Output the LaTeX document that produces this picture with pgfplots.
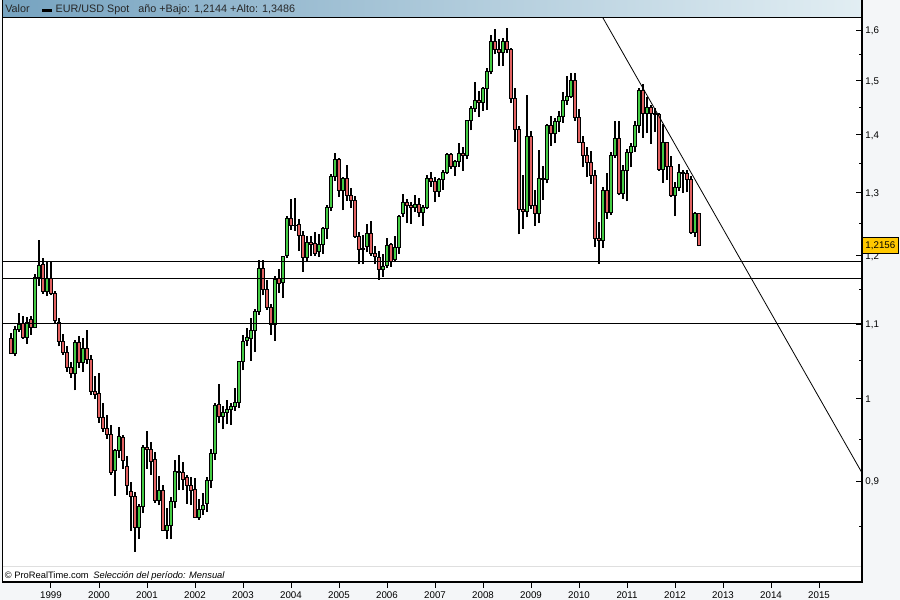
\documentclass[border=0pt]{standalone}
\usepackage{pgfplots}
\pgfplotsset{compat=1.18}
\usepackage{pgfplotstable}
\usepackage{fontspec}
\setmainfont{Liberation Sans}
\definecolor{upc}{RGB}{68,204,68}
\definecolor{dnc}{RGB}{226,98,98}
\definecolor{bgc}{RGB}{244,246,248}
\definecolor{hdl}{RGB}{118,163,192}
\definecolor{hdr}{RGB}{226,238,243}
\definecolor{goldc}{RGB}{255,200,0}
\newcommand\tf{\fontsize{7.3}{8.5}\selectfont}
\newcommand\ff{\fontsize{7}{8.5}\selectfont}
\newcommand\hf{\fontsize{8.1}{9}\selectfont}

% monthly EUR/USD candles, index 0 = Mar 1998, 172 = Jul 2012
\pgfplotstableread{
i O H L C
0 1.0807 1.0876 1.0590 1.0603
1 1.0603 1.0970 1.0560 1.0920
2 1.0920 1.1160 1.0890 1.1000
3 1.1010 1.1110 1.0790 1.0820
4 1.0820 1.1100 1.0730 1.1030
5 1.1070 1.1120 1.0850 1.0960
6 1.0960 1.1720 1.0940 1.1680
7 1.1680 1.2240 1.1550 1.1850
8 1.1870 1.1960 1.1430 1.1460
9 1.1460 1.1910 1.1400 1.1660
10 1.1660 1.1910 1.1410 1.1440
11 1.1440 1.1470 1.1000 1.1050
12 1.1030 1.1080 1.0690 1.0760
13 1.0760 1.0860 1.0580 1.0610
14 1.0610 1.0700 1.0350 1.0410
15 1.0410 1.0480 1.0270 1.0330
16 1.0330 1.0780 1.0110 1.0750
17 1.0750 1.0830 1.0400 1.0470
18 1.0470 1.0800 1.0350 1.0660
19 1.0660 1.0920 1.0450 1.0520
20 1.0520 1.0580 1.0050 1.0090
21 1.0090 1.0300 1.0000 1.0060
22 1.0075 1.0340 0.9700 0.9770
23 0.9770 0.9950 0.9590 0.9630
24 0.9630 0.9800 0.9500 0.9560
25 0.9560 0.9670 0.9080 0.9100
26 0.9130 0.9380 0.8840 0.9370
27 0.9370 0.9650 0.9270 0.9530
28 0.9520 0.9550 0.9150 0.9250
29 0.9170 0.9300 0.8850 0.8960
30 0.8890 0.9000 0.8450 0.8830
31 0.8830 0.8880 0.8230 0.8490
32 0.8490 0.8750 0.8370 0.8720
33 0.8720 0.9430 0.8650 0.9400
34 0.9400 0.9600 0.9150 0.9380
35 0.9380 0.9470 0.9080 0.9230
36 0.9260 0.9340 0.8760 0.8790
37 0.8790 0.9060 0.8730 0.8900
38 0.8900 0.8960 0.8450 0.8460
39 0.8460 0.8700 0.8360 0.8510
40 0.8510 0.8830 0.8360 0.8780
41 0.8780 0.9250 0.8700 0.9120
42 0.9120 0.9310 0.8900 0.9100
43 0.9100 0.9230 0.8900 0.9020
44 0.9050 0.9080 0.8750 0.8960
45 0.8960 0.9050 0.8730 0.8900
46 0.8910 0.9040 0.8590 0.8600
47 0.8600 0.8800 0.8570 0.8690
48 0.8690 0.8870 0.8620 0.8730
49 0.8750 0.9050 0.8660 0.9010
50 0.9010 0.9380 0.8930 0.9330
51 0.9330 0.9950 0.9250 0.9920
52 0.9930 1.0190 0.9700 0.9780
53 0.9780 0.9910 0.9620 0.9830
54 0.9830 0.9980 0.9680 0.9870
55 0.9870 0.9950 0.9670 0.9910
56 0.9910 1.0140 0.9850 0.9950
57 0.9950 1.0500 0.9880 1.0490
58 1.0490 1.0850 1.0370 1.0760
59 1.0780 1.0940 1.0690 1.0820
60 1.0800 1.1090 1.0500 1.0910
61 1.0910 1.1210 1.0620 1.1180
62 1.1180 1.1930 1.1130 1.1810
63 1.1810 1.1930 1.1410 1.1500
64 1.1500 1.1640 1.1200 1.1240
65 1.1240 1.1280 1.0850 1.0990
66 1.0990 1.1700 1.0770 1.1650
67 1.1660 1.1800 1.1450 1.1590
68 1.1600 1.2000 1.1370 1.1990
69 1.2010 1.2630 1.1960 1.2590
70 1.2590 1.2900 1.2400 1.2470
71 1.2470 1.2920 1.2390 1.2480
72 1.2490 1.2570 1.2080 1.2310
73 1.2320 1.2390 1.1760 1.1980
74 1.1980 1.2300 1.1900 1.2200
75 1.2200 1.2310 1.1990 1.2170
76 1.2190 1.2370 1.2000 1.2030
77 1.2060 1.2330 1.1980 1.2170
78 1.2170 1.2450 1.2030 1.2430
79 1.2430 1.2810 1.2260 1.2770
80 1.2770 1.3310 1.2710 1.3270
81 1.3270 1.3670 1.3200 1.3560
82 1.3570 1.3590 1.2940 1.3040
83 1.3040 1.3270 1.2720 1.3250
84 1.3250 1.3480 1.2870 1.2960
85 1.2960 1.3090 1.2750 1.2870
86 1.2880 1.2950 1.2280 1.2300
87 1.2300 1.2370 1.1870 1.2100
88 1.2100 1.2320 1.1870 1.2120
89 1.2140 1.2500 1.2050 1.2340
90 1.2340 1.2540 1.2000 1.2040
91 1.2040 1.2150 1.1870 1.1990
92 1.1980 1.2080 1.1640 1.1790
93 1.1790 1.2020 1.1680 1.1840
94 1.1850 1.2270 1.1810 1.2160
95 1.2170 1.2200 1.1830 1.1920
96 1.1940 1.2300 1.1900 1.2130
97 1.2130 1.2640 1.2030 1.2620
98 1.2660 1.2980 1.2610 1.2840
99 1.2840 1.2900 1.2510 1.2790
100 1.2790 1.2850 1.2500 1.2770
101 1.2770 1.2970 1.2690 1.2810
102 1.2810 1.2910 1.2600 1.2680
103 1.2680 1.2800 1.2470 1.2760
104 1.2760 1.3300 1.2740 1.3240
105 1.3240 1.3360 1.3100 1.3200
106 1.3200 1.3270 1.2850 1.3020
107 1.3020 1.3250 1.2940 1.3230
108 1.3230 1.3390 1.3050 1.3350
109 1.3350 1.3680 1.3310 1.3650
110 1.3650 1.3680 1.3410 1.3450
111 1.3450 1.3550 1.3290 1.3530
112 1.3530 1.3850 1.3440 1.3670
113 1.3670 1.3780 1.3370 1.3630
114 1.3630 1.4270 1.3570 1.4260
115 1.4260 1.4520 1.4080 1.4480
116 1.4480 1.4970 1.4410 1.4630
117 1.4630 1.4800 1.4320 1.4590
118 1.4590 1.4880 1.4440 1.4860
119 1.4860 1.5250 1.4450 1.5180
120 1.5180 1.5900 1.5120 1.5780
121 1.5780 1.6020 1.5510 1.5610
122 1.5610 1.5820 1.5290 1.5550
123 1.5550 1.5840 1.5280 1.5760
124 1.5760 1.6040 1.5530 1.5610
125 1.5610 1.5630 1.4580 1.4670
126 1.4670 1.4870 1.3880 1.4090
127 1.4090 1.4150 1.2330 1.2730
128 1.2730 1.3300 1.2420 1.2690
129 1.2690 1.4720 1.2600 1.3970
130 1.3970 1.4070 1.2740 1.2800
131 1.2800 1.3050 1.2470 1.2670
132 1.2670 1.3740 1.2510 1.3250
133 1.3250 1.3450 1.2890 1.3230
134 1.3230 1.4190 1.3160 1.4160
135 1.4160 1.4340 1.3800 1.4030
136 1.4030 1.4300 1.3850 1.4250
137 1.4250 1.4440 1.4050 1.4330
138 1.4330 1.4780 1.4220 1.4630
139 1.4630 1.5080 1.4550 1.4710
140 1.4710 1.5140 1.4680 1.5010
141 1.5010 1.5150 1.4250 1.4320
142 1.4320 1.4460 1.3850 1.3860
143 1.3860 1.3980 1.3430 1.3630
144 1.3630 1.3780 1.3270 1.3510
145 1.3510 1.3710 1.3150 1.3290
146 1.3290 1.3390 1.2140 1.2270
147 1.2270 1.2530 1.1880 1.2230
148 1.2230 1.3100 1.2120 1.3050
149 1.3050 1.3330 1.2580 1.2680
150 1.2680 1.3690 1.2640 1.3630
151 1.3630 1.4250 1.3600 1.3940
152 1.3940 1.4240 1.2960 1.3000
153 1.3000 1.3470 1.2900 1.3380
154 1.3380 1.3750 1.2860 1.3690
155 1.3690 1.3860 1.3430 1.3800
156 1.3800 1.4250 1.3700 1.4160
157 1.4160 1.4860 1.4040 1.4810
158 1.4810 1.4940 1.3950 1.4390
159 1.4390 1.4700 1.4030 1.4500
160 1.4500 1.4540 1.3840 1.4390
161 1.4390 1.4490 1.4050 1.4370
162 1.4370 1.4400 1.3370 1.3390
163 1.3390 1.4200 1.3170 1.3860
164 1.3860 1.3880 1.3220 1.3440
165 1.3440 1.3630 1.2930 1.2960
166 1.2960 1.3180 1.2620 1.3090
167 1.3090 1.3490 1.3030 1.3340
168 1.3340 1.3390 1.3000 1.3320
169 1.3320 1.3380 1.3010 1.3220
170 1.3220 1.3280 1.2340 1.2360
171 1.2360 1.2690 1.2290 1.2660
172 1.2660 1.2680 1.2144 1.2156
}\candles

\begin{document}
\begin{tikzpicture}
\useasboundingbox (0,0) rectangle (675pt,450pt);
\fill[bgc] (0,0) rectangle (675pt,450pt);
\fill[white] (1.5pt,13.5pt) rectangle (646.5pt,436.5pt);
\shade[left color=hdl, right color=hdr] (1.5pt,436.5pt) rectangle (646.5pt,450pt);
\draw[gray!25, line width=0.75pt] (1.5pt,24.75pt) -- (646.5pt,24.75pt);

\begin{axis}[
  at={(1.5pt,13.5pt)}, anchor=south west,
  scale only axis, width=645pt, height=423pt,
  xmin=-2.25, xmax=212.75,
  ymode=log, ymin=0.79203, ymax=1.6246,
  axis line style={draw=none},
  clip=true,
  xtick={10,22,...,202},
  xticklabels={1999,2000,2001,2002,2003,2004,2005,2006,2007,2008,2009,2010,2011,2012,2013,2014,2015},
  xtick pos=bottom, xtick align=outside,
  ytick={0.9,1,1.1,1.2,1.3,1.4,1.5,1.6},
  yticklabels={{0,9},{1},{1,1},{1,2},{1,3},{1,4},{1,5},{1,6}},
  minor ytick={0.85,0.95,1.05,1.15,1.25,1.35,1.45,1.55},
  ytick pos=right, yticklabel pos=right, ytick align=inside,
  major tick length=4.5pt, minor tick length=2.5pt,
  every tick/.style={black, line width=0.75pt},
  xticklabel style={font=\tf, text=black, yshift=0.5pt},
  yticklabel style={font=\tf, text=black, anchor=west, xshift=-1pt, yshift=-0.5pt},
]
\pgfplotsinvokeforeach{0,...,172}{%
  \pgfplotstablegetelem{#1}{i}\of\candles \let\ci\pgfplotsretval
  \pgfplotstablegetelem{#1}{O}\of\candles \let\co\pgfplotsretval
  \pgfplotstablegetelem{#1}{H}\of\candles \let\ch\pgfplotsretval
  \pgfplotstablegetelem{#1}{L}\of\candles \let\cl\pgfplotsretval
  \pgfplotstablegetelem{#1}{C}\of\candles \let\cc\pgfplotsretval
  \pgfmathsetmacro\xa{\ci-0.47}%
  \pgfmathsetmacro\xb{\ci+0.47}%
  \ifdim\co pt<\cc pt\def\ccol{upc}\else\def\ccol{dnc}\fi
  \edef\doit{%
    \noexpand\addplot[black, line width=0.9pt, forget plot] coordinates {(\ci,\cl) (\ci,\ch)};
    \noexpand\addplot[draw=black, line width=0.6pt, fill=\ccol, forget plot] coordinates {(\xa,\co) (\xb,\co) (\xb,\cc) (\xa,\cc)} -- cycle;
  }%
  \doit
}
\addplot[black, line width=0.8pt, forget plot] coordinates {(-2.25,1.1906) (212.75,1.1906)};
\addplot[black, line width=0.8pt, forget plot] coordinates {(-2.25,1.1651) (212.75,1.1651)};
\addplot[black, line width=0.8pt, forget plot] coordinates {(-2.25,1.1002) (212.75,1.1002)};
\addplot[black, line width=0.6pt, forget plot] coordinates {(148,1.6246) (212.75,0.910)};
\end{axis}

% frame
\draw[black, line width=0.75pt] (1.5pt,13.5pt) -- (1.5pt,450pt);
\draw[black, line width=0.75pt] (1.5pt,436.5pt) -- (646.5pt,436.5pt);
\draw[black, line width=1.5pt] (646.5pt,12.75pt) -- (646.5pt,450pt);
\draw[black, line width=1.5pt] (1.5pt,13.5pt) -- (647.25pt,13.5pt);

% header
\node[anchor=base west, inner sep=0pt, font=\hf, text=black!85] at (3.75pt,440.5pt) {Valor};
\fill[black] (31.5pt,441.2pt) rectangle (39pt,443.4pt);
\node[anchor=base west, inner sep=0pt, font=\hf, text=black!85] at (41.5pt,440.5pt) {EUR/USD Spot};
\node[anchor=base west, inner sep=0pt, font=\hf, text=black!85] at (103.5pt,440.5pt) {año +Bajo: 1,2144 +Alto: 1,3486};

% footer
\node[anchor=base west, inner sep=0pt, font=\ff, text=black] at (3.5pt,15.9pt) {\textcopyright\ ProRealTime.com\enspace\itshape Selección del período: Mensual};

% last price tag
\node[draw=black, line width=0.6pt, fill=goldc, inner xsep=2pt, inner ysep=1.5pt, anchor=west, font=\tf, minimum height=12pt]
  at (646.8pt,265.9pt) {1,2156};
\end{tikzpicture}
\end{document}
